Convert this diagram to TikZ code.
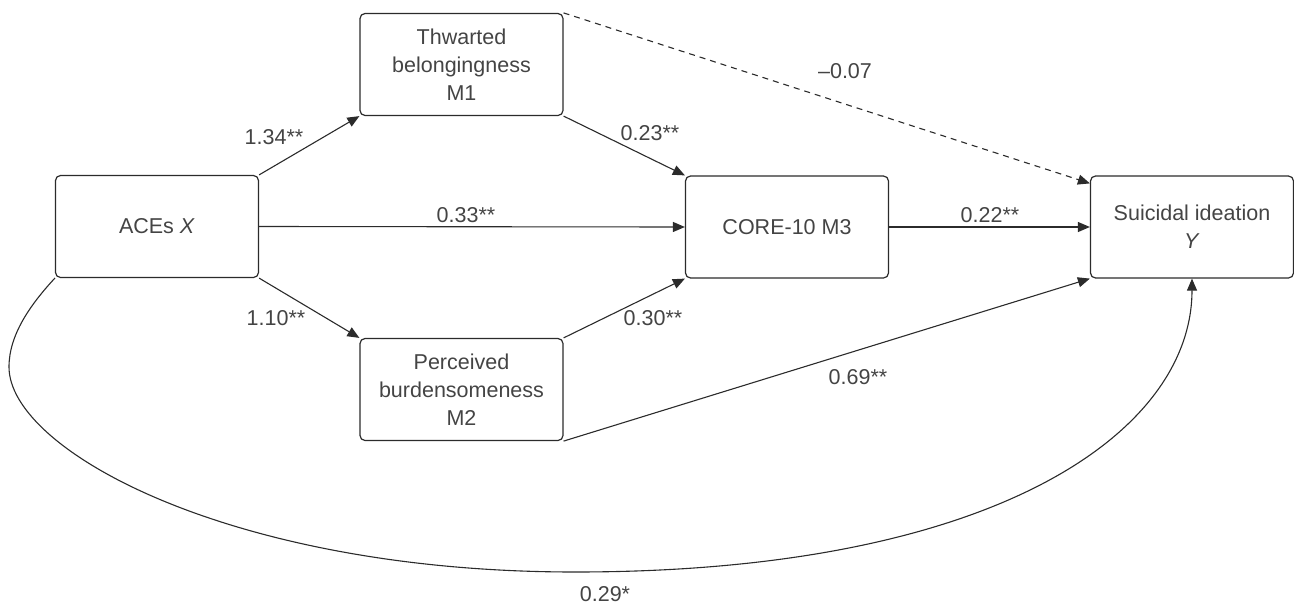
\documentclass[tikz,border=0pt]{standalone}
\usepackage{fontspec}
\setmainfont{Liberation Sans}
\usetikzlibrary{arrows.meta}
\definecolor{lncol}{HTML}{2B2B2B}
\definecolor{txcol}{HTML}{444444}
\begin{document}
\begin{tikzpicture}[x=1pt,y=-1pt,
  font=\fontsize{21.5}{28}\selectfont,
  box/.style={draw=lncol,line width=1.2pt,rounded corners=5pt,minimum width=203pt,minimum height=102pt,inner sep=2pt,align=center,text=txcol},
  conn/.style={draw=lncol,line width=1.1pt,-{Triangle[length=12pt,width=10pt]}},
  lab/.style={text=txcol,inner sep=0pt}]
\useasboundingbox (0,0) rectangle (1294,608);
\node[box] (X) at (157,226.5) {ACEs \textit{X}};
\node[box] (M1) at (461.5,64.5) {Thwarted\\belongingness\\M1};
\node[box] (M3) at (787,227) {CORE-10 M3};
\node[box] (Y) at (1192,227) {Suicidal ideation\\\textit{Y}};
\node[box] (M2) at (461.5,389.5) {Perceived\\burdensomeness\\M2};
\draw[conn] (X.north east) -- (M1.south west);
\draw[conn] (X.east) -- (M3.west);
\draw[conn] (X.south east) -- (M2.north west);
\draw[conn] (M1.south east) -- (M3.north west);
\draw[conn] (M2.north east) -- (M3.south west);
\draw[conn] (M3.east) -- (Y.west);
\draw[conn,dash pattern=on 6pt off 5pt] (M1.north east) -- ([yshift=-8pt]Y.north west);
\draw[conn] (M2.south east) -- (Y.south west);
\coordinate (L) at (9,367);
\coordinate (B) at (575,572);
\draw[conn] (X.south west) .. controls (30,305) and (9,335) .. (L)
  .. controls (9,450) and (230,572) .. (B)
  .. controls (1000,572) and (1192,430) .. (Y.south);
\node[lab] (l134) at (274,137) {1.34**};
\node[lab] (l110) at (276,318) {1.10**};
\node[lab] (l033) at (466,215) {0.33**};
\node[lab] (l023) at (650,133) {0.23**};
\node[lab] (l030) at (653,318) {0.30**};
\node[lab] (l022) at (990,215) {0.22**};
\node[lab] (l007) at (845,71) {\char"2013 0.07};
\node[lab] (l069) at (858,377) {0.69**};
\node[lab] (l029) at (605,594) {0.29*};
\end{tikzpicture}
\end{document}
